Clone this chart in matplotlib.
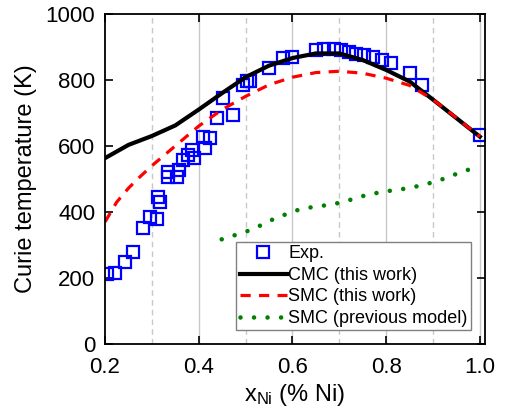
import matplotlib
matplotlib.use("Agg")
import matplotlib.pyplot as plt

plt.rcParams['font.family'] = ['Liberation Sans', 'DejaVu Sans']
plt.rcParams['mathtext.default'] = 'regular'

# experimental points
exp_x = [0.205, 0.221, 0.243, 0.259, 0.280, 0.296, 0.310, 0.314, 0.317, 0.334,
         0.335, 0.353, 0.357, 0.367, 0.378, 0.385, 0.389, 0.410, 0.413, 0.424,
         0.438, 0.451, 0.473, 0.495, 0.503, 0.509, 0.549, 0.579, 0.599, 0.650,
         0.668, 0.688, 0.703, 0.720, 0.736, 0.753, 0.772, 0.791, 0.810, 0.850,
         0.876, 1.0]
exp_y = [211, 216, 248, 278, 351, 384, 378, 446, 431, 507,
         522, 507, 527, 557, 573, 588, 563, 628, 593, 623,
         684, 744, 694, 785, 795, 795, 835, 866, 868, 891,
         893, 893, 891, 884, 879, 874, 868, 860, 852, 820,
         785, 633]

# CMC (this work)
cmc_x = [0.2, 0.25, 0.3, 0.35, 0.4, 0.45, 0.5, 0.55, 0.6, 0.65, 0.7, 0.75,
         0.8, 0.85, 0.9, 0.95, 1.0]
cmc_y = [563, 603, 630, 662, 710, 760, 808, 843, 866, 880, 880, 860,
         830, 795, 740, 684, 628]

# SMC (this work)
smc_x = [0.2, 0.225, 0.25, 0.275, 0.3, 0.35, 0.4, 0.45, 0.5, 0.55, 0.6, 0.65,
         0.7, 0.75, 0.8, 0.85, 0.9, 0.95, 1.0]
smc_y = [370, 430, 472, 507, 540, 600, 660, 710, 750, 785, 808, 822,
         826, 820, 805, 783, 740, 685, 628]

# SMC (previous model)
prev_x = [0.449, 0.478, 0.506, 0.535, 0.559, 0.588, 0.616, 0.648, 0.677, 0.705,
          0.734, 0.762, 0.791, 0.821, 0.850, 0.878, 0.907, 0.935, 0.963, 0.991]
prev_y = [317, 330, 343, 361, 378, 394, 408, 416, 421, 429,
          441, 453, 460, 467, 472, 482, 492, 507, 522, 535]

fig = plt.figure(figsize=(5.1, 4.18), dpi=100)
ax = fig.add_axes([0.206, 0.177, 0.745, 0.79])

# vertical grid: solid at major, dashed at half steps
for gx in [0.4, 0.6, 0.8, 1.0]:
    ax.axvline(gx, color='#c8c8c8', lw=1.0, zorder=0)
for gx in [0.3, 0.5, 0.7, 0.9]:
    ax.axvline(gx, color='#c8c8c8', lw=1.0, ls=(0, (4, 3)), zorder=0)

ax.plot(exp_x, exp_y, ls='none', marker='s', ms=8, mfc='none', mec='#0000ff',
        mew=1.6, label='Exp.')
ax.plot(cmc_x, cmc_y, color='black', lw=3.0, label='CMC (this work)')
ax.plot(smc_x, smc_y, color='#ff0000', lw=2.3, ls=(0, (3.2, 2.6)),
        label='SMC (this work)')
ax.plot(prev_x, prev_y, color='#008000', lw=3.3, ls=(0, (0.001, 2.95)),
        dash_capstyle='round', label='SMC (previous model)')

ax.set_xlim(0.2, 1.011)
ax.set_ylim(0, 1000)
ax.set_xticks([0.2, 0.4, 0.6, 0.8, 1.0])
ax.set_xticklabels(['0.2', '0.4', '0.6', '0.8', '1.0'])
ax.set_yticks([0, 200, 400, 600, 800, 1000])
ax.tick_params(direction='in', length=6, width=1.2, top=True, right=True,
               labelsize=16)
ax.tick_params(axis='x', pad=9)
ax.tick_params(axis='y', pad=7)
for s in ax.spines.values():
    s.set_linewidth(1.3)

ax.set_xlabel(r'x$_{\mathregular{Ni}}$ (% Ni)', fontsize=17, labelpad=3)
ax.set_ylabel('Curie temperature (K)', fontsize=17, labelpad=6)

leg = ax.legend(loc='lower right', fontsize=13, frameon=True, fancybox=False,
                edgecolor='#808080', handlelength=2.6, handletextpad=0.1,
                borderpad=0.2, labelspacing=0.25, borderaxespad=0.75,
                framealpha=1)
leg.get_frame().set_linewidth(1.0)

fig.savefig('out.png', dpi=100)
